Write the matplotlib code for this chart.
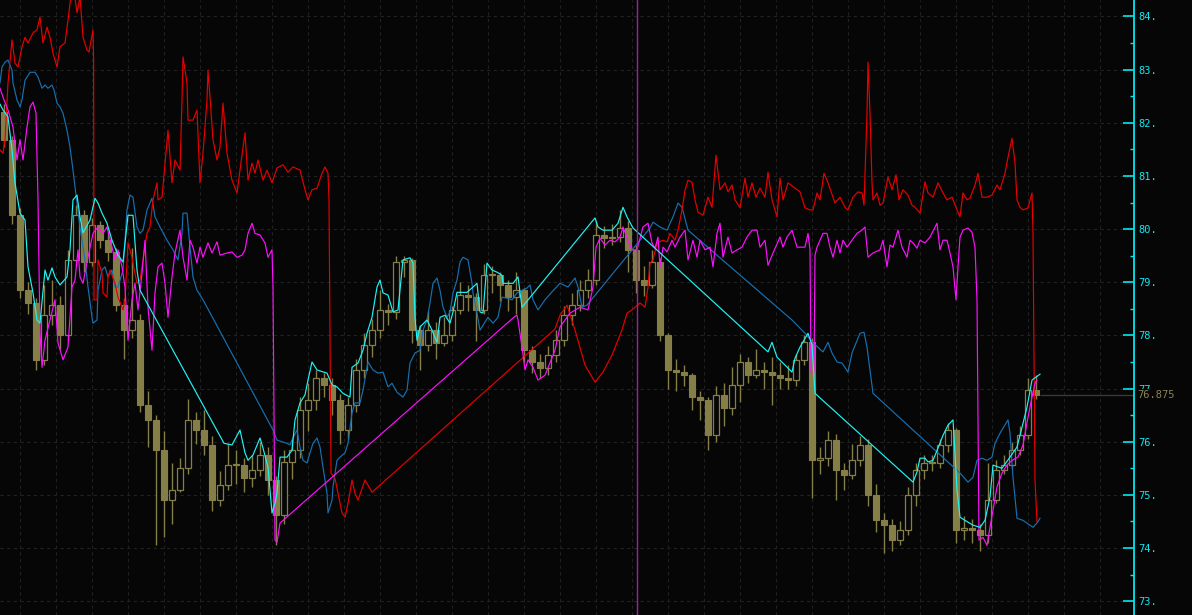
import numpy as np
import matplotlib
matplotlib.use("Agg")
import matplotlib.pyplot as plt
from matplotlib.ticker import FixedLocator, FuncFormatter
from matplotlib.transforms import blended_transform_factory

# candles, one every two time steps
first_open = 82.20
closes = [81.68, 80.26, 78.85, 78.61, 77.54, 78.38, 78.57, 78.01, 79.42, 80.26,
          79.38, 80.08, 79.79, 79.57, 78.57, 78.10, 78.29, 76.69, 76.41, 75.84,
          74.90, 75.09, 75.50, 76.41, 76.22, 75.94, 74.90, 75.18, 75.56, 75.56,
          75.31, 75.47, 75.75, 75.28, 74.62, 75.62, 75.84, 76.60, 76.78, 77.20,
          77.07, 76.78, 76.22, 76.69, 77.35, 77.82, 78.10, 78.48, 78.44, 79.38,
          79.42, 78.10, 77.82, 78.10, 77.86, 78.01, 78.48, 78.76, 78.72, 78.48,
          79.14, 79.14, 78.95, 78.72, 78.85, 77.72, 77.50, 77.38, 77.63, 77.91,
          78.38, 78.57, 78.85, 79.04, 79.89, 79.83, 79.85, 80.02, 79.61, 79.04,
          78.95, 79.38, 78.01, 77.35, 77.31, 77.25, 76.84, 76.78, 76.12, 76.88,
          76.63, 77.06, 77.50, 77.25, 77.35, 77.31, 77.25, 77.20, 77.16, 77.54,
          77.87, 75.65, 75.69, 76.03, 75.47, 75.37, 75.65, 75.94, 75.00, 74.52,
          74.43, 74.15, 74.34, 75.00, 75.47, 75.60, 75.60, 75.94, 76.22, 74.34,
          74.37, 74.34, 74.24, 74.90, 75.47, 75.56, 75.84, 76.12, 76.97, 76.875]
highs = [82.35, 81.75, 80.40, 79.00, 78.70, 78.95, 79.05, 78.75, 79.60, 80.45,
         80.35, 80.20, 80.15, 79.95, 79.65, 78.70, 79.65, 78.40, 76.95, 76.50,
         76.20, 75.60, 75.70, 76.80, 76.55, 76.60, 76.10, 75.45, 75.95, 75.85,
         75.70, 75.75, 76.00, 75.90, 75.35, 75.85, 76.05, 76.85, 77.10, 77.35,
         77.30, 77.20, 76.90, 76.85, 77.55, 78.05, 78.30, 78.85, 78.60, 79.50,
         79.50, 79.45, 78.20, 78.45, 78.25, 78.35, 78.55, 79.00, 78.95, 78.80,
         79.35, 79.30, 79.20, 79.05, 79.20, 78.90, 77.80, 77.65, 77.80, 78.10,
         78.55, 78.80, 79.05, 79.25, 80.15, 80.05, 80.10, 80.35, 80.15, 79.70,
         79.30, 79.60, 79.45, 78.05, 77.55, 77.45, 77.30, 76.95, 76.85, 77.05,
         77.10, 77.40, 77.65, 77.60, 77.75, 77.50, 77.60, 77.50, 77.45, 77.65,
         78.00, 77.95, 75.90, 76.20, 76.15, 75.60, 75.95, 76.10, 76.05, 75.20,
         74.65, 74.55, 74.50, 75.15, 75.60, 75.75, 75.75, 76.05, 76.35, 76.25,
         74.60, 74.55, 74.45, 75.60, 75.65, 75.75, 76.00, 76.30, 77.20, 77.25]
lows = [81.55, 80.10, 78.70, 78.40, 77.35, 77.45, 78.20, 77.75, 77.90, 79.30,
        79.20, 79.30, 79.65, 79.40, 78.45, 77.55, 77.95, 76.55, 75.90, 74.05,
        74.20, 74.45, 75.05, 75.40, 75.95, 75.75, 74.70, 74.80, 75.10, 75.20,
        75.05, 75.15, 75.35, 75.00, 74.05, 74.45, 75.30, 75.70, 76.20, 76.60,
        76.85, 76.50, 75.95, 76.05, 76.55, 77.20, 77.60, 77.95, 78.20, 78.30,
        79.10, 77.85, 77.35, 77.70, 77.55, 77.80, 77.90, 78.40, 78.45, 77.90,
        78.40, 78.80, 78.65, 78.45, 78.40, 77.50, 77.30, 77.20, 77.25, 77.50,
        77.80, 78.20, 78.45, 78.70, 78.95, 79.65, 79.70, 79.75, 79.20, 78.80,
        78.75, 78.90, 77.90, 77.00, 76.95, 77.05, 76.60, 76.40, 75.85, 76.00,
        76.30, 76.50, 76.75, 77.10, 77.20, 77.00, 76.70, 77.00, 77.00, 77.05,
        77.45, 74.95, 75.40, 75.55, 74.90, 75.10, 75.30, 75.55, 74.80, 74.30,
        73.90, 73.95, 74.05, 74.25, 74.80, 75.30, 75.45, 75.50, 75.80, 74.10,
        74.15, 74.10, 73.95, 74.10, 74.85, 75.40, 75.50, 75.75, 76.05, 76.80]

# upper envelope line (cyan)
cyan_t = [0, 0.75, 2, 3, 3.75, 5, 6.25, 7, 8.25, 9.25, 10, 11.25, 12, 13, 13.75, 15, 16.75,
          17.5, 18.25, 19.25, 20, 20.75, 22.5, 23.75, 24.5, 25.5, 26.75, 28, 29.5, 30.75,
          32, 33.25, 34.25, 35, 56, 58, 60, 61.25, 62, 63.25, 65, 65.75, 67, 68, 68.75,
          69.25, 70, 71.75, 73, 73.75, 75, 76.25, 77, 78, 79.25, 81.75, 83, 84.25, 85.75,
          87.5, 88, 89.5, 90.75, 91.75, 93, 94.25, 95, 95.75, 97, 98.25, 99.5, 100.75,
          102.5, 103.25, 103.75, 104.25, 105, 106.75, 108, 109.25, 110, 111.25, 112.5,
          113.25, 114.25, 116.75, 118.25, 119.25, 120, 120.75, 121.75, 123, 124.25,
          125.5, 125.75, 128.25, 129.5, 130.5, 148.75, 149.5, 150.75, 153, 154.5,
          155.75, 156.75, 158.25, 192, 193, 194.25, 198, 198.75, 200, 202, 203,
          203.75, 228.25, 229.25, 230, 231.25, 232, 233.25, 234.5, 235.75, 237,
          238.25, 238.75, 239.25, 240, 241.25, 243.25, 245, 246.25, 247.5, 248.25,
          250.5, 252.5, 254.25, 255.5, 256.75, 258, 260]
cyan_v = [82.35, 82.24, 82.11, 81.49, 80.87, 80.30, 80.17, 79.29, 78.80, 78.29, 78.23,
          79.23, 79.04, 79.27, 79.10, 78.95, 79.10, 79.61, 80.55, 80.64, 80.23, 79.93,
          80.17, 80.58, 80.49, 80.30, 80.11, 79.79, 79.51, 79.38, 80.26, 80.26, 79.23,
          78.85, 75.97, 75.94, 76.22, 75.79, 75.65, 75.75, 76.07, 75.88, 75.52, 74.66,
          74.84, 75.03, 75.71, 75.71, 75.84, 76.41, 76.73, 76.88, 77.16, 77.50, 77.35,
          77.29, 77.07, 77.03, 76.91, 76.84, 77.40, 77.48, 77.72, 78.04, 78.34, 78.91,
          79.04, 78.80, 78.76, 78.44, 78.48, 79.42, 79.46, 79.36, 78.34, 77.91, 78.16,
          78.29, 78.10, 77.87, 78.34, 78.38, 78.23, 78.44, 78.81, 78.81, 78.91, 78.98,
          78.44, 78.42, 79.36, 79.23, 79.19, 79.13, 78.98, 78.98, 79.10, 78.53, 80.21,
          80.04, 79.98, 79.98, 80.11, 80.41, 80.23, 80.02, 77.69, 77.87, 77.59, 77.31,
          77.57, 77.78, 78.04, 77.82, 76.91, 75.24, 75.43, 75.69, 75.69, 75.62, 75.65,
          75.88, 76.12, 76.31, 76.41, 75.79, 75.09, 74.58, 74.52, 74.43, 74.39, 74.52,
          74.96, 75.56, 75.50, 75.71, 75.90, 76.27, 76.65, 77.16, 77.27]

magenta_t = [0, 1, 2, 3.25, 4.25, 5, 5.75, 6.75, 7.5, 8.25, 9, 9.5, 10, 10.5, 11.25, 12.5,
             13.75, 14.5, 15.75, 17, 18, 18.75, 19.5, 20, 20.75, 22, 23.25, 24.5, 25.75,
             26.75, 28, 28.75, 29.5, 30.5, 31.25, 32, 33, 33.75, 34.5, 35.5, 36.25, 37,
             38, 38.75, 39.5, 40.5, 41.25, 42, 43, 43.75, 45, 45.75, 46.75, 47.5, 48.25,
             49.25, 50, 50.75, 52, 53, 54.25, 55, 56.75, 58, 59.25, 60.5, 61.25, 62, 63,
             63.75, 65, 66.25, 67, 68, 68.25, 68.75, 69.25, 70, 128.75, 129.25, 129.5,
             130.5, 131.25, 132, 133.25, 134.5, 136.25, 138.75, 140, 142.5, 145, 147,
             148.25, 149, 150, 151.25, 152.5, 153.75, 155, 155.75, 157, 158, 159.25,
             160.75, 162, 163, 163.75, 164.5, 165, 165.75, 166.75, 168, 168.75, 170,
             171.25, 172, 173.25, 174.25, 175, 176.25, 177.5, 178.25, 179.25, 180,
             180.75, 182, 183, 184.25, 185.5, 186.75, 188, 189.25, 190, 191.25, 192,
             193.25, 195, 195.75, 196.75, 198, 199.25, 201.25, 202, 202.5, 202.75,
             203.5, 203.75, 204.25, 205, 205.75, 206.75, 207.5, 208.25, 209.25, 210,
             210.75, 211.75, 213, 214.25, 215.5, 216.25, 217, 218.25, 220, 220.75,
             221.75, 222.5, 223.25, 224.5, 225.5, 226.75, 227.5, 228.25, 229.25, 230,
             231.25, 232.5, 234.25, 235, 235.75, 236.75, 237.5, 238.25, 239, 239.5,
             240, 240.75, 242, 243, 243.75, 244.25, 244.75, 245.75, 246.75, 247.5,
             248.25, 249.25, 250.5, 251.75, 253, 254.5, 255.75, 257, 258, 258.75, 259.25]
magenta_v = [82.65, 82.43, 82.24, 81.92, 81.30, 81.68, 81.30, 81.92, 82.30, 82.39, 82.18,
             80.55, 78.04, 77.40, 77.91, 78.29, 78.67, 77.86, 77.54, 77.78, 78.91, 79.04,
             79.61, 79.10, 78.98, 79.47, 79.92, 80.04, 79.92, 80.04, 79.66, 79.42, 79.61,
             79.29, 78.91, 77.91, 78.67, 78.98, 78.48, 79.17, 79.79, 78.53, 77.72, 78.80,
             79.29, 79.36, 78.98, 78.34, 79.10, 79.55, 79.98, 79.47, 79.04, 79.79, 79.66,
             79.36, 79.66, 79.47, 79.74, 79.55, 79.76, 79.51, 79.55, 79.57, 79.47, 79.51,
             79.61, 79.92, 80.11, 79.92, 79.89, 79.74, 79.47, 79.61, 78.91, 74.15, 74.11,
             74.47, 78.36, 78.38, 78.29, 77.78, 77.35, 77.54, 77.40, 77.16, 77.25, 77.72,
             78.16, 78.42, 78.53, 78.48, 78.91, 79.66, 79.83, 79.70, 79.79, 79.76, 79.85,
             80.04, 79.79, 79.61, 79.61, 80.04, 80.11, 79.74, 79.64, 79.85, 79.29, 79.66,
             79.57, 79.79, 79.66, 79.85, 79.98, 79.42, 79.79, 79.47, 79.79, 79.61, 79.66,
             79.29, 79.92, 80.11, 79.47, 79.85, 79.55, 79.61, 79.66, 79.85, 79.98, 79.98,
             79.66, 79.79, 79.32, 79.55, 79.85, 79.66, 79.85, 79.98, 79.66, 79.66, 79.92,
             79.61, 77.31, 77.31, 79.51, 79.66, 79.79, 79.92, 79.92, 79.66, 79.47, 79.79,
             79.55, 79.79, 79.66, 79.79, 79.92, 79.98, 80.04, 79.47, 79.55, 79.61, 79.79,
             79.29, 79.70, 79.66, 79.98, 79.66, 79.47, 79.79, 79.74, 79.64, 79.79, 79.74,
             79.85, 80.11, 79.61, 79.79, 79.79, 79.55, 79.29, 78.67, 79.29, 79.85, 79.98,
             80.02, 79.94, 79.66, 78.67, 74.15, 74.20, 74.05, 74.39, 74.71, 75.15, 75.41,
             75.56, 75.65, 75.71, 75.94, 76.46, 76.84, 77.10, 77.16]

red_t = [0, 0.75, 1.25, 2, 3, 3.75, 4.5, 5.5, 6.25, 7, 8.25, 9.25, 10, 10.75, 11.75, 12.5,
         13.25, 14.25, 15, 16.25, 17, 17.75, 18.75, 19.25, 20, 20.75, 21.75, 22.25, 23.25,
         23.4, 23.5, 24.25, 24.5, 25.5, 25.75, 26.75, 27, 27.5, 28.75, 29.5, 30.75, 31.25,
         32, 33, 33.25, 34.25, 35, 35.75, 36.75, 37.5, 38.25, 39.25, 39.5, 40.5, 41.25, 42,
         43, 43.75, 45, 45.5, 45.75, 46.75, 47, 48.25, 49.25, 50, 50.75, 51.75, 52, 52.5,
         53.25, 54.25, 55, 55.75, 56.75, 58, 59.25, 60, 61.25, 62, 63, 63.75, 64.5, 65.75,
         66.75, 68, 69.25, 70.75, 72, 73.25, 75, 76.25, 77, 78, 79.25, 80.5, 81.25, 82,
         82.25, 82.75, 83.75, 84.5, 85.5, 86.25, 87, 88, 88.75, 89.5, 91.25, 93, 138.75,
         140, 141.75, 143.75, 146.25, 148.75, 150.75, 153, 155.5, 156.75, 158, 160,
         161.25, 162, 162.5, 163.25, 164.25, 165.75, 166.75, 167.5, 168.75, 169.5, 170.5,
         171.25, 172, 173, 173.75, 174.5, 175.75, 177, 178, 179, 180, 181.25, 182, 183,
         183.75, 185, 186.25, 187, 188, 189, 190, 191.25, 192, 193, 194.25, 195, 195.75,
         197, 198.75, 200, 201.25, 202.5, 203.25, 204.25, 205, 206, 207, 208.75, 210,
         211.25, 212, 213.25, 214.5, 215.5, 216, 216.75, 217, 217.5, 218, 218.25, 219.25,
         220, 220.75, 222, 223, 224, 224.75, 225.75, 227, 228, 228.75, 230, 231.25, 232,
         233.25, 234.5, 235.75, 236.75, 238, 239.25, 240, 240.75, 241.75, 242.5, 243.75,
         244.5, 245.5, 246.75, 248, 249.25, 250, 251.25, 252, 253, 253.75, 254.25, 255,
         255.75, 257, 258, 258.25, 258.75, 259.25]
red_v = [81.49, 81.43, 81.68, 82.75, 83.56, 83.12, 83.05, 83.43, 83.61, 83.50, 83.69, 83.75,
         83.99, 83.50, 83.80, 83.61, 83.31, 83.05, 83.43, 83.50, 83.93, 84.40, 84.35, 84.07,
         84.37, 83.61, 83.37, 83.33, 83.75, 83.18, 78.67, 78.67, 79.42, 79.17, 78.80, 78.72,
         79.10, 79.23, 78.98, 78.72, 78.48, 78.67, 79.74, 79.47, 79.36, 78.98, 79.04, 79.42,
         79.92, 80.04, 80.55, 80.87, 80.55, 80.60, 81.24, 81.86, 80.87, 81.30, 81.11, 82.43,
         83.24, 82.75, 82.05, 82.05, 82.24, 80.87, 81.43, 82.43, 82.99, 82.48, 81.68, 81.30,
         81.54, 82.37, 81.43, 80.92, 80.68, 81.11, 81.81, 80.92, 81.24, 81.05, 81.30, 80.92,
         81.11, 80.87, 81.15, 81.21, 81.07, 81.17, 81.11, 80.74, 80.55, 80.74, 80.77, 81.05,
         81.17, 81.05, 80.55, 75.41, 75.31, 75.03, 74.66, 74.58, 74.84, 75.28, 75.03, 74.90,
         75.28, 75.05, 78.12, 78.38, 78.57, 78.10, 77.44, 77.12, 77.31, 77.63, 78.10, 78.42,
         78.48, 78.61, 78.53, 78.91, 79.36, 79.42, 79.74, 79.79, 79.76, 79.92, 79.79, 79.98,
         80.36, 80.73, 80.92, 80.88, 80.55, 80.32, 80.26, 80.60, 80.41, 81.39, 80.74, 80.87,
         80.70, 80.83, 80.55, 80.40, 80.96, 80.60, 80.87, 80.60, 80.77, 80.60, 81.07, 80.55,
         80.23, 80.96, 80.55, 80.87, 80.77, 80.70, 80.40, 80.36, 80.36, 80.68, 80.55, 81.05,
         80.87, 80.49, 80.60, 80.41, 80.36, 80.60, 80.70, 80.68, 80.45, 82.18, 83.14, 82.18,
         80.87, 80.55, 80.68, 80.45, 80.49, 80.98, 80.74, 81.02, 80.55, 80.74, 80.64, 80.45,
         80.41, 80.30, 80.89, 80.68, 80.60, 80.87, 80.68, 80.55, 80.60, 80.36, 80.23, 80.68,
         80.55, 80.58, 80.83, 81.05, 80.60, 80.60, 80.64, 80.83, 80.74, 81.05, 81.35, 81.71,
         81.24, 80.55, 80.41, 80.36, 80.40, 80.68, 79.92, 75.28, 74.49]

blue_t = [0, 0.5, 1.25, 2, 3, 3.25, 4.25, 5, 5.5, 6.25, 7.5, 8.75, 9.5, 10.5, 11.25, 12, 13,
          13.5, 14.25, 15, 15.75, 16.75, 17.5, 18.25, 19, 20, 21.25, 22, 23, 23.25, 24.25,
          24.5, 25.5, 26.25, 27, 28, 28.75, 29.5, 30.75, 31.75, 32.5, 33.25, 34.25, 35,
          35.75, 36.75, 38, 38.75, 40, 41.75, 43.25, 44.5, 45.5, 45.75, 46.75, 47.5, 48.25,
          49.25, 50.75, 68.25, 69.25, 71.75, 72.5, 73.25, 74.25, 75, 75.75, 76.75, 77.5,
          78.25, 79.25, 80, 80.75, 81.75, 82, 83, 83.25, 84.25, 85, 86.25, 87, 88, 88.75,
          90, 90.75, 92, 93.25, 94.5, 95.75, 97, 98, 99.25, 100.75, 101.75, 102.5, 103.75,
          105, 105.75, 106.75, 107.5, 108.25, 109.25, 110, 110.75, 111.75, 112.5, 113.25,
          114.25, 115, 115.75, 117, 118, 118.25, 119.25, 120, 121.25, 122, 123.25, 124.5,
          125.5, 126.75, 128, 129.25, 130.5, 131.75, 132.5, 133.25, 134.5, 136.25, 138,
          140, 142, 143.75, 144.5, 145.5, 146.75, 162.5, 163.25, 165, 166.75, 168.25,
          169.5, 170.5, 172, 198, 201.25, 203.25, 205.75, 207, 208, 209.25, 210.5, 212,
          213, 215, 216, 216.75, 217.5, 218.25, 240, 242, 243.25, 244.25, 245.5, 246.75,
          248, 248.75, 250, 252, 252.5, 253.25, 254.25, 255.75, 257.5, 258.25, 259.25, 260]
blue_v = [82.75, 83.05, 83.14, 83.18, 82.99, 82.75, 82.43, 82.30, 82.43, 82.80, 82.95, 82.95,
          82.86, 82.65, 82.71, 82.65, 82.71, 82.62, 82.37, 82.30, 82.18, 81.86, 81.54, 81.11,
          80.64, 80.04, 79.42, 78.91, 78.34, 78.23, 78.29, 78.85, 79.23, 79.29, 79.10, 79.23,
          78.91, 78.91, 79.23, 80.36, 80.64, 80.60, 80.04, 79.92, 79.98, 80.36, 80.58, 80.23,
          80.04, 79.79, 79.61, 79.42, 79.92, 80.30, 80.30, 79.66, 79.10, 78.85, 78.67, 76.22,
          76.03, 75.97, 75.94, 76.07, 76.22, 75.90, 75.65, 75.60, 75.79, 75.97, 76.07, 75.90,
          75.52, 75.03, 74.66, 74.90, 75.15, 75.65, 75.71, 75.79, 75.97, 76.54, 76.73, 76.73,
          76.97, 77.50, 77.35, 77.29, 77.31, 77.03, 77.10, 76.93, 76.84, 76.97, 77.48, 77.67,
          77.72, 78.10, 78.29, 78.61, 78.98, 79.08, 78.85, 78.53, 78.34, 78.44, 78.80, 79.04,
          79.38, 79.47, 79.42, 78.98, 78.80, 78.42, 78.10, 78.25, 78.34, 78.23, 78.34, 78.72,
          78.70, 78.67, 78.80, 78.85, 78.89, 78.95, 78.67, 78.48, 78.67, 78.82, 78.98, 78.91,
          79.08, 78.91, 78.53, 78.57, 80.02, 80.13, 80.04, 79.98, 80.23, 80.49, 80.41, 79.98,
          78.29, 78.04, 77.86, 77.69, 77.87, 77.67, 77.50, 77.48, 77.31, 77.67, 78.04, 78.06,
          77.78, 77.35, 76.91, 75.41, 75.24, 75.33, 75.65, 75.69, 75.65, 75.71, 75.97, 76.16,
          76.41, 76.16, 75.33, 74.56, 74.52, 74.43, 74.39, 74.47, 74.56]

last_price = 76.875
cursor_t = 159.25
y_ticks = list(range(73, 85))

BG = "#060606"
OLIVE = "#857f47"

fig = plt.figure(figsize=(11.92, 6.15), dpi=100, facecolor=BG)
ax = fig.add_axes([0, 0, 1134 / 1192, 1])
ax.set_facecolor(BG)

# grid
for v in y_ticks:
    ax.axhline(v, color="#222222", lw=0.8, ls=(0, (3, 3)), zorder=0)
for t in np.arange(5, 284, 9):
    ax.axvline(t, color="#202020", lw=0.8, ls=(0, (3, 3)), zorder=0)

# candles
closes = np.array(closes)
opens = np.r_[first_open, closes[:-1]]
pos = np.arange(len(closes)) * 2 + 1
ax.vlines(pos, lows, highs, color=OLIVE, lw=1.0, zorder=2)
bottom = np.minimum(opens, closes)
height = np.maximum(np.abs(closes - opens), 0.02)
up = closes >= opens
ax.bar(pos[~up], height[~up], bottom=bottom[~up], width=1.3, color=OLIVE,
       edgecolor=OLIVE, lw=0.8, zorder=3)
ax.bar(pos[up], height[up], bottom=bottom[up], width=1.3, color=BG,
       edgecolor=OLIVE, lw=0.9, zorder=3)

# lines
ax.plot(blue_t, blue_v, color="#1770b0", lw=0.85, zorder=4)
ax.plot(red_t, red_v, color="#e80000", lw=0.85, zorder=4)
ax.plot(magenta_t, magenta_v, color="#ff10ff", lw=0.85, zorder=5)
ax.plot(cyan_t, cyan_v, color="#20f4f4", lw=0.85, zorder=6)

ax.axvline(cursor_t, color="#a020a0", lw=1.0, zorder=7)
ax.hlines(last_price, pos[-1] + 1, 283.5, color="#383838", lw=1.0, zorder=1)

ax.set_xlim(0, 283.5)
ax.set_ylim(72.74, 84.31)

# right price axis
for s in ["left", "top", "bottom"]:
    ax.spines[s].set_visible(False)
ax.spines["right"].set_color("#00e8f0")
ax.spines["right"].set_linewidth(1.3)
ax.set_xticks([])
ax.yaxis.tick_right()
ax.yaxis.set_major_locator(FixedLocator(y_ticks))
ax.yaxis.set_minor_locator(FixedLocator([v + 0.5 for v in y_ticks[:-1]]))
ax.yaxis.set_major_formatter(FuncFormatter(lambda v, p: f"{v:.0f}."))
ax.tick_params(axis="y", which="major", direction="in", length=8, width=1.2,
               color="#00e8f0", labelcolor="#10e8f4", pad=3, labelsize=7.5)
ax.tick_params(axis="y", which="minor", direction="in", length=3, width=1.0,
               color="#00e8f0")
for lbl in ax.get_yticklabels():
    lbl.set_family("DejaVu Sans Mono")

tr = blended_transform_factory(ax.transAxes, ax.transData)
ax.text(1.003, last_price, "76.875", transform=tr, color="#8c8455", fontsize=7.5,
        family="DejaVu Sans Mono", va="center", ha="left", zorder=10,
        bbox=dict(facecolor=BG, edgecolor="none", pad=0.8), clip_on=False)

fig.savefig("out.png", dpi=100, facecolor=BG)
